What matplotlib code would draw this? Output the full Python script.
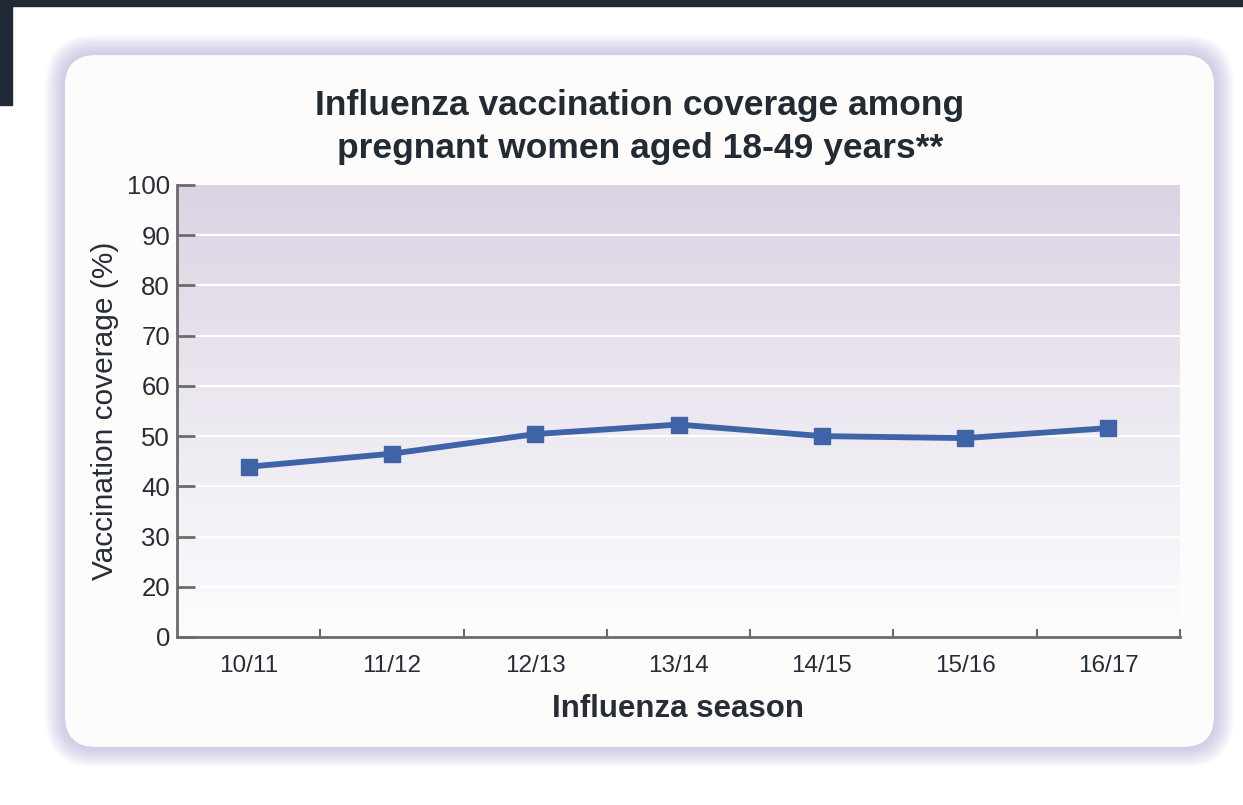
import numpy as np
import matplotlib
matplotlib.use("Agg")
import matplotlib.pyplot as plt
from matplotlib.patches import FancyBboxPatch, Rectangle

plt.rcParams['font.family'] = ['Liberation Sans', 'DejaVu Sans']

# -------- data -------- #
seasons = ['10/11', '11/12', '12/13', '13/14', '14/15', '15/16', '16/17']
coverage = [43.9, 46.5, 50.4, 52.3, 50.0, 49.6, 51.6]
# the axis is broken at the bottom: the lowest tick (10) is labelled 0
ytick_vals = [10, 20, 30, 40, 50, 60, 70, 80, 90, 100]
ytick_labels = ['0', '20', '30', '40', '50', '60', '70', '80', '90', '100']
title = 'Influenza vaccination coverage among\npregnant women aged 18-49 years**'

W, H = 1243, 805
fig = plt.figure(figsize=(W / 100, H / 100), dpi=100)
fig.patch.set_facecolor('white')

# -------- page furniture -------- #
bg = fig.add_axes([0, 0, 1, 1])
bg.set_xlim(0, W)
bg.set_ylim(H, 0)
bg.axis('off')

# dark strips at the top and left
bg.add_patch(Rectangle((0, 0), W, 6, color='#1f2a36', zorder=5))
bg.add_patch(Rectangle((0, 0), 12, 105, color='#1f2a36', zorder=5))

# card with soft purple shadow
x0, y0, x1, y1 = 64, 54, 1215, 748
for i in range(24, 0, -1):
    g = i * 0.8
    bg.add_patch(FancyBboxPatch((x0 - g, y0 - g), (x1 - x0) + 2 * g, (y1 - y0) + 2 * g,
                                boxstyle='round,pad=0,rounding_size=%f' % (32 + g),
                                fc='#bdb6de', ec='none', alpha=0.03, zorder=1))
bg.add_patch(FancyBboxPatch((x0, y0), x1 - x0, y1 - y0,
                            boxstyle='round,pad=0,rounding_size=32',
                            fc='#fdfcfb', ec='#d3cee8', lw=1.5, zorder=2))

# -------- chart -------- #
ax = fig.add_axes([177 / W, 1 - 637 / H, (1180 - 177) / W, (637 - 185) / H])
ax.set_zorder(3)
ax.patch.set_alpha(0)

xs = np.arange(len(seasons)) + 0.5
ax.set_xlim(0, len(seasons))
ax.set_ylim(10, 100)

# vertical gradient fill of the plotting area
grad = np.linspace(0, 1, 256)[:, None]
top = np.array([219, 211, 227]) / 255
bottom = np.array([253, 252, 254]) / 255
img = bottom + (top - bottom) * grad[..., None]
ax.imshow(img, extent=(0, len(seasons), 10, 100), origin='lower', aspect='auto', zorder=0)

for v in ytick_vals[1:-1]:
    ax.axhline(v, color='white', lw=1.6, zorder=1)

ax.plot(xs, coverage, color='#3e63a6', lw=4.2, marker='s', markersize=11,
        solid_capstyle='butt', zorder=4)

for side in ['top', 'right']:
    ax.spines[side].set_visible(False)
for side in ['left', 'bottom']:
    ax.spines[side].set_color('#6b6b6b')
    ax.spines[side].set_linewidth(2)

ax.set_yticks(ytick_vals, labels=ytick_labels)
ax.tick_params(axis='y', direction='in', length=13, width=2, color='#6b6b6b',
               labelsize=18.5, labelcolor='#262d36', pad=5)
ax.set_xticks(xs, labels=seasons)
ax.set_xticks(np.arange(1, len(seasons) + 1), minor=True)
ax.tick_params(axis='x', which='major', length=0, labelsize=17.5, labelcolor='#262d36', pad=13)
ax.tick_params(axis='x', which='minor', direction='in', length=6, width=1.5, color='#6b6b6b')

ax.set_ylabel('Vaccination coverage (%)', fontsize=21.5, color='#262d36', labelpad=6)
ax.set_xlabel('Influenza season', fontsize=22.5, fontweight='bold', color='#262d36', labelpad=12)

fig.text(640 / W, 1 - 127 / H, title, ha='center', va='center', fontsize=25.5,
         fontweight='bold', color='#222a33', linespacing=1.4)

fig.savefig('out.png', dpi=100)
